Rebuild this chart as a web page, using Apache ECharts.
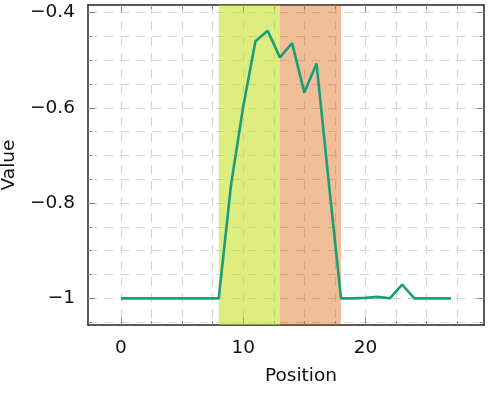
<!DOCTYPE html>
<html>
<head>
<meta charset="utf-8">
<script src="https://cdn.jsdelivr.net/npm/echarts@6/dist/echarts.min.js"></script>
<style>
html,body{margin:0;padding:0;background:#fff;}
#chart{width:492px;height:396px;}
</style>
</head>
<body>
<div id="chart"></div>
<script>
var positions = [0,1,2,3,4,5,6,7,8,9,10,11,12,13,14,15,16,17,18,19,20,21,22,23,24,25,26,27];
var values = [-1,-1,-1,-1,-1,-1,-1,-1,-1,-0.762,-0.597,-0.460,-0.438,-0.494,-0.464,-0.568,-0.507,-0.757,-1,-1,-0.999,-0.997,-1,-0.971,-1,-1,-1,-1];
var xTickValues = [0,10,20];
var xTickLabels = ['0','10','20'];
var xMinorTicks = [0,2.5,5,7.5,10,12.5,15,17.5,20,22.5,25,27.5];
var yTickValues = [-1,-0.8,-0.6,-0.4];
var yTickLabels = ['\u22121','\u22120.8','\u22120.6','\u22120.4'];
var yMinorTicks = [-1.05,-1,-0.95,-0.9,-0.85,-0.8,-0.75,-0.7,-0.65,-0.6,-0.55,-0.5,-0.45,-0.4];
var bandRanges = [[8,13],[13,18]];
var bandColors = ['rgba(190,220,0,0.5)','rgba(217,95,2,0.4)'];
var xName = 'Position';
var yName = 'Value';

var X_MIN = -2.7, X_MAX = 29.7, Y_MIN = -1.056, Y_MAX = -0.384;
var FONT = 'DejaVu Sans';

function lookup(vals, labels){
  return function(v){
    for (var i=0;i<vals.length;i++){ if (Math.abs(v-vals[i])<1e-7) return labels[i]; }
    return '';
  };
}
var gridLine = {show:true, lineStyle:{color:'#d6d6d6', width:1.2, type:[9,7]}};
function baseAx(pos, mn, mx, ticks, len, opts){
  var a = {type:'value', position:pos, min:mn, max:mx,
    axisLine:{show:false, onZero:false},
    axisTick:{show:true, inside:true, length:len, customValues:ticks, lineStyle:{color:'#8a8a8a', width:1}},
    axisLabel:{show:false}, splitLine:{show:false}};
  for (var k in opts) a[k]=opts[k];
  return a;
}
var axisLineStyle = {show:true, onZero:false, lineStyle:{color:'#222', width:1.5}};

var chart = echarts.init(document.getElementById('chart'), null, {renderer:'canvas'});
chart.setOption({
  animation:false,
  backgroundColor:'#fff',
  grid:{left:88, right:8, top:5, bottom:71, containLabel:false, outerBoundsMode:'none'},
  xAxis:[
    baseAx('bottom', X_MIN, X_MAX, xMinorTicks, 4, {axisLine:axisLineStyle, splitLine:gridLine,
      name:xName, nameLocation:'middle', nameGap:42,
      nameTextStyle:{fontFamily:FONT, fontSize:18.5, color:'#111', padding:[0,0,0,30]},
      axisLabel:{show:true, margin:14, fontFamily:FONT, fontSize:18.5, color:'#111',
        customValues:xTickValues, formatter:lookup(xTickValues,xTickLabels)}}),
    baseAx('bottom', X_MIN, X_MAX, xTickValues, 7, {}),
    baseAx('top', X_MIN, X_MAX, xMinorTicks, 4, {axisLine:axisLineStyle}),
    baseAx('top', X_MIN, X_MAX, xTickValues, 7, {})
  ],
  yAxis:[
    baseAx('left', Y_MIN, Y_MAX, yMinorTicks, 4, {axisLine:axisLineStyle, splitLine:gridLine,
      name:yName, nameLocation:'middle', nameGap:63, nameRotate:90,
      nameTextStyle:{fontFamily:FONT, fontSize:18.5, color:'#111'},
      axisLabel:{show:true, margin:13, fontFamily:FONT, fontSize:18.5, color:'#111',
        customValues:yTickValues, formatter:lookup(yTickValues,yTickLabels)}}),
    baseAx('left', Y_MIN, Y_MAX, yTickValues, 7, {}),
    baseAx('right', Y_MIN, Y_MAX, yMinorTicks, 4, {axisLine:axisLineStyle}),
    baseAx('right', Y_MIN, Y_MAX, yTickValues, 7, {})
  ],
  series:[{
    type:'line',
    xAxisIndex:0, yAxisIndex:0,
    data: positions.map(function(p,i){return [p, values[i]];}),
    showSymbol:false, symbol:'none',
    lineStyle:{color:'#1b9e77', width:2.6},
    z:5,
    markArea:{silent:true, data: bandRanges.map(function(r,i){
      return [{xAxis:r[0], itemStyle:{color:bandColors[i]}}, {xAxis:r[1]}];
    })}
  }]
});
</script>
</body>
</html>
